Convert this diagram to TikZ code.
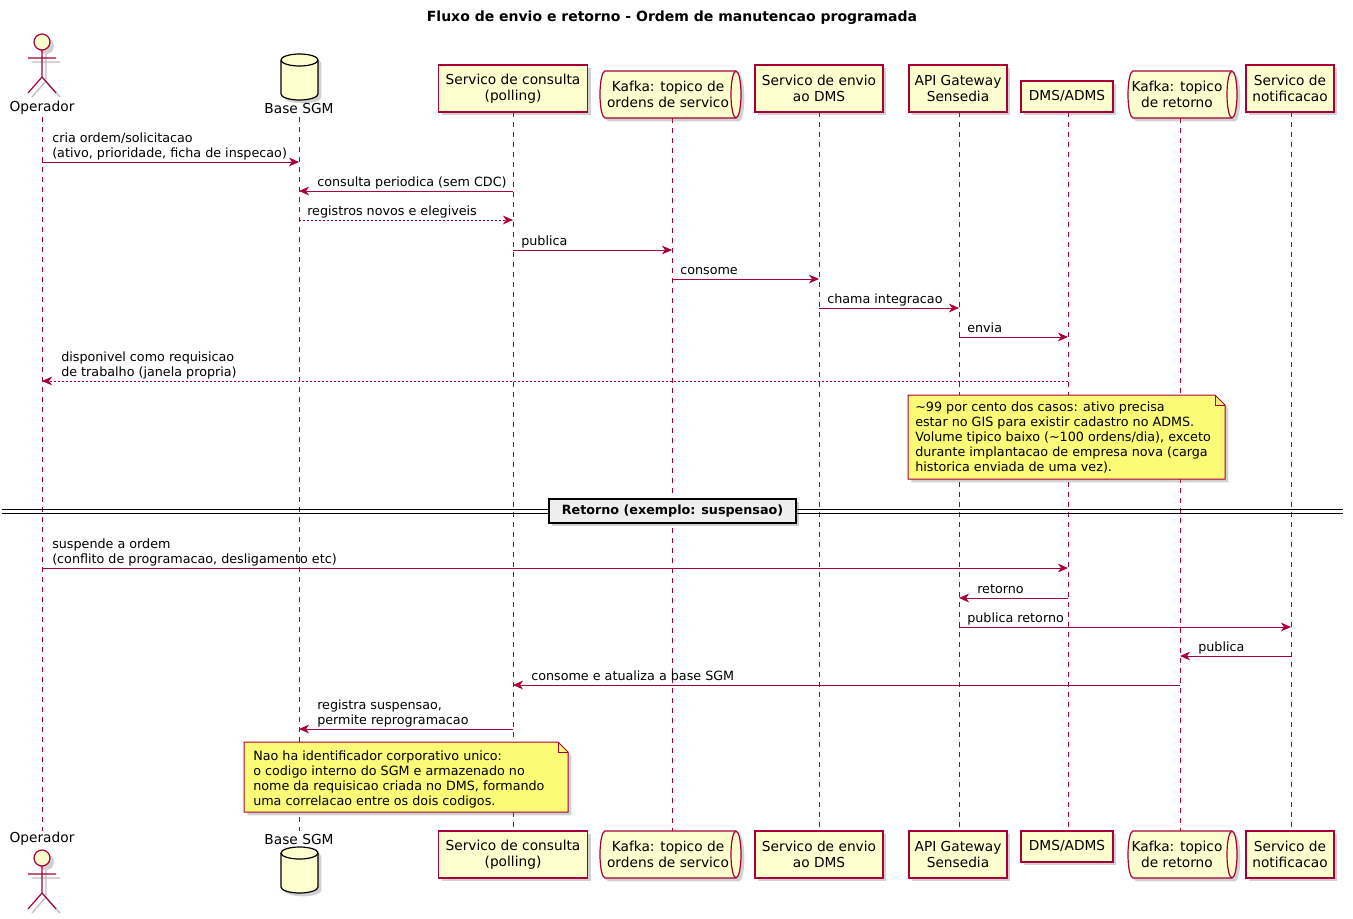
\documentclass[tikz,border=0pt]{standalone}
\usepackage{fontspec}
\setmainfont{DejaVu Sans}
\usetikzlibrary{arrows.meta,shadows,calc}
\definecolor{lc}{HTML}{A80036}
\definecolor{pfill}{HTML}{FEFECE}
\definecolor{nfill}{HTML}{FBFB77}
\definecolor{dfill}{HTML}{EEEEEE}
\newcommand\pfont{\fontsize{10.3pt}{12.2pt}\selectfont}
\newcommand\mfont{\fontsize{9.55pt}{11.25pt}\selectfont}
\newcommand\drawactor[2]{%
  \begin{scope}[shift={(#1+4,#2+4)},draw=black!25,line width=1pt]
    \fill[black!18] (0,0) circle[radius=8];
    \draw (0,8) -- (0,35) (-14,16) -- (14,16) (-14,51) -- (0,35) -- (14,51);
  \end{scope}
  \begin{scope}[shift={(#1,#2)}]
    \draw[actorline,fill=pfill] (0,0) circle[radius=8];
    \draw[actorline] (0,8) -- (0,35) (-14,16) -- (14,16) (-14,51) -- (0,35) -- (14,51);
  \end{scope}}
\newcommand\drawdb[2]{% x1, top y ; width 37, height 46
  \filldraw[dbase] (#1,#2+6) -- (#1,#2+40) arc[start angle=180,end angle=0,x radius=18.5,y radius=6]
     -- (#1+37,#2+6) arc[start angle=0,end angle=-180,x radius=18.5,y radius=6] -- cycle;
  \draw[draw=black,line width=0.9pt] (#1,#2+6) arc[start angle=180,end angle=0,x radius=18.5,y radius=6];}
\newcommand\drawqueue[3]{% x1, x2, top y ; height 47
  \filldraw[queue] (#1+5,#3) -- (#2-5,#3) arc[start angle=-90,end angle=90,x radius=5,y radius=23.5]
     -- (#1+5,#3+47) arc[start angle=90,end angle=270,x radius=5,y radius=23.5] -- cycle;
  \draw[draw=lc,line width=0.9pt] (#2-5,#3) arc[start angle=270,end angle=90,x radius=5,y radius=23.5];}
\begin{document}
\begin{tikzpicture}[x=0.75pt,y=-0.75pt,
  shad/.style={drop shadow={shadow xshift=2.5pt,shadow yshift=-2.5pt,opacity=0.3,fill=black!60}},
  part/.style={draw=lc,fill=pfill,line width=0.9pt,shad,font=\pfont,align=center,inner sep=0pt},
  plabel/.style={font=\pfont,inner sep=0pt},
  qlabel/.style={font=\pfont,align=center,inner sep=0pt},
  queue/.style={draw=lc,fill=pfill,line width=0.9pt,shad},
  dbase/.style={draw=black,fill=pfill,line width=0.9pt,shad},
  actorline/.style={draw=lc,line width=0.9pt},
  lifeline/.style={draw=lc,line width=0.75pt,dash pattern=on 3.75pt off 3.75pt},
  msg/.style={draw=lc,line width=0.75pt,-{Stealth[length=7.5pt,width=6.5pt,inset=2.2pt]}},
  ret/.style={msg,dash pattern=on 1.5pt off 1.5pt},
  lbl/.style={font=\mfont,align=left,inner sep=0pt,anchor=south west},
  notebox/.style={draw=lc,fill=nfill,line width=0.75pt,shad},
  notefold/.style={draw=lc,line width=0.75pt},
  notetxt/.style={font=\mfont,align=left,inner sep=0pt,anchor=north west},
  divline/.style={draw=black,line width=0.9pt},
  divbox/.style={draw=black,fill=dfill,line width=1.1pt,shad,font=\bfseries\mfont,inner sep=0pt,
     minimum width=185.25pt,minimum height=18pt},
]
\useasboundingbox (0,0) rectangle (1353,918);

% title
\node[font=\bfseries\fontsize{10.5pt}{12pt}\selectfont] (title) at (672,18)
  {Fluxo de envio e retorno - Ordem de manutencao programada};

% lifeline coordinates
\foreach \n/\x in {op/42,db/299,cons/513,kord/672,env/819,api/959,dms/1068,kret/1180,notif/1291}
  \coordinate (\n) at (\x,0);

% lifelines
\foreach \n/\s in {op/117,db/117,cons/112,kord/118,env/112,api/112,dms/112,kret/118,notif/112}
  \draw[lifeline] ($(\n)+(0,\s)$) -- ($(\n)+(0,831)$);

% ---- top participants
\drawactor{42}{42}
\node[plabel] (opT) at (42,108) {Operador};
\drawdb{281}{54}
\node[plabel] (dbT) at (299,108) {Base SGM};
\node[part,minimum width=111.75pt,minimum height=35.25pt] (consT) at (513,88.5) {Servico de consulta\\(polling)};
\drawqueue{600}{741}{71}
\node[qlabel] (kordT) at (668,94.5) {Kafka: topico de\\ordens de servico};
\node[part,minimum width=96pt,minimum height=35.25pt] (envT) at (819,88.5) {Servico de envio\\ao DMS};
\node[part,minimum width=73.5pt,minimum height=35.25pt] (apiT) at (958,88.5) {API Gateway\\Sensedia};
\node[part,minimum width=69pt,minimum height=23.25pt] (dmsT) at (1067,96.5) {DMS/ADMS};
\drawqueue{1128}{1237}{71}
\node[qlabel] (kretT) at (1177,94.5) {Kafka: topico\\de retorno};
\node[part,minimum width=66pt,minimum height=35.25pt] (notifT) at (1290,88.5) {Servico de\\notificacao};

% ---- bottom participants
\node[plabel] (opB) at (42,839) {Operador};
\drawactor{42}{858}
\node[plabel] (dbB) at (299,839) {Base SGM};
\drawdb{281}{847}
\node[part,minimum width=111.75pt,minimum height=35.25pt] (consB) at (513,854.5) {Servico de consulta\\(polling)};
\drawqueue{600}{741}{831}
\node[qlabel] (kordB) at (668,854.5) {Kafka: topico de\\ordens de servico};
\node[part,minimum width=96pt,minimum height=35.25pt] (envB) at (819,854.5) {Servico de envio\\ao DMS};
\node[part,minimum width=73.5pt,minimum height=35.25pt] (apiB) at (958,854.5) {API Gateway\\Sensedia};
\node[part,minimum width=69pt,minimum height=23.25pt] (dmsB) at (1067,846.5) {DMS/ADMS};
\drawqueue{1128}{1237}{831}
\node[qlabel] (kretB) at (1177,854.5) {Kafka: topico\\de retorno};
\node[part,minimum width=66pt,minimum height=35.25pt] (notifB) at (1290,854.5) {Servico de\\notificacao};

% ---- messages
\draw[msg] ($(op)+(0,162)$) -- ($(db)+(0,162)$);
\node[lbl] (m1) at (52,162) {cria ordem/solicitacao\\(ativo, prioridade, ficha de inspecao)\strut};
\draw[msg] ($(cons)+(0,191)$) -- ($(db)+(0,191)$);
\node[lbl] (m2) at (317,191) {consulta periodica (sem CDC)\strut};
\draw[ret] ($(db)+(0,220)$) -- ($(cons)+(0,220)$);
\node[lbl] (m3) at (307,220) {registros novos e elegiveis\strut};
\draw[msg] ($(cons)+(0,250)$) -- ($(kord)+(0,250)$);
\node[lbl] (m4) at (521,250) {publica\strut};
\draw[msg] ($(kord)+(0,279)$) -- ($(env)+(0,279)$);
\node[lbl] (m5) at (680,279) {consome\strut};
\draw[msg] ($(env)+(0,308)$) -- ($(api)+(0,308)$);
\node[lbl] (m6) at (827,308) {chama integracao\strut};
\draw[msg] ($(api)+(0,337)$) -- ($(dms)+(0,337)$);
\node[lbl] (m7) at (967,337) {envia\strut};
\draw[ret] ($(dms)+(0,381)$) -- ($(op)+(0,381)$);
\node[lbl] (m8) at (61,381) {disponivel como requisicao\\de trabalho (janela propria)\strut};

% note 1
\filldraw[notebox] (908,395) -- (1215,395) -- (1225,405) -- (1225,479) -- (908,479) -- cycle;
\draw[notefold] (1215,395) -- (1215,405) -- (1225,405);
\node[notetxt] (n1) at (915,400.5) {\strut\textasciitilde 99 por cento dos casos: ativo precisa\\estar no GIS para existir cadastro no ADMS.\\Volume tipico baixo (\textasciitilde 100 ordens/dia), exceto\\durante implantacao de empresa nova (carga\\historica enviada de uma vez).};

% divider
\draw[divline] (2,509.5) -- (1343,509.5);
\draw[divline] (2,513.5) -- (1343,513.5);
\node[divbox] (div) at (672.5,511) {Retorno (exemplo: suspensao)};

\draw[msg] ($(op)+(0,568)$) -- ($(dms)+(0,568)$);
\node[lbl] (m9) at (52,568) {suspende a ordem\\(conflito de programacao, desligamento etc)\strut};
\draw[msg] ($(dms)+(0,598)$) -- ($(api)+(0,598)$);
\node[lbl] (m10) at (977,598) {retorno\strut};
\draw[msg] ($(api)+(0,627)$) -- ($(notif)+(0,627)$);
\node[lbl] (m11) at (967,627) {publica retorno\strut};
\draw[msg] ($(notif)+(0,656)$) -- ($(kret)+(0,656)$);
\node[lbl] (m12) at (1198,656) {publica\strut};
\draw[msg] ($(kret)+(0,685)$) -- ($(cons)+(0,685)$);
\node[lbl] (m13) at (531,685) {consome e atualiza a base SGM\strut};
\draw[msg] ($(cons)+(0,729)$) -- ($(db)+(0,729)$);
\node[lbl] (m14) at (317,729) {registra suspensao,\\permite reprogramacao\strut};

% note 2
\filldraw[notebox] (244,742) -- (558,742) -- (568,752) -- (568,812) -- (244,812) -- cycle;
\draw[notefold] (558,742) -- (558,752) -- (568,752);
\node[notetxt] (n2) at (253,749.5) {\strut Nao ha identificador corporativo unico:\\o codigo interno do SGM e armazenado no\\nome da requisicao criada no DMS, formando\\uma correlacao entre os dois codigos.};
\end{tikzpicture}
\end{document}
